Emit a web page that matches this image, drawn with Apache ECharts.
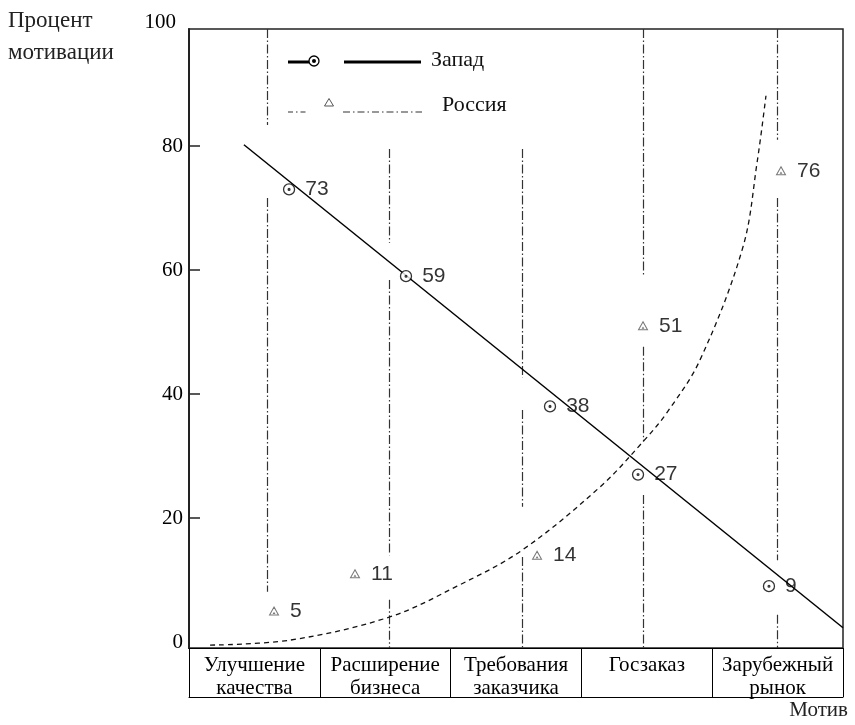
<!DOCTYPE html>
<html><head><meta charset="utf-8">
<script src="https://cdn.jsdelivr.net/npm/echarts@6/dist/echarts.min.js"></script>
<style>html,body{margin:0;padding:0;background:#fff}#c{width:855px;height:725px}</style>
</head><body><div id="c"></div>
<script>
// ---- data ----
const categories = ['Улучшение\nкачества','Расширение\nбизнеса','Требования\nзаказчика','Госзаказ','Зарубежный\nрынок'];
const yTickLabels = [0, 20, 40, 60, 80];
const yTopLabel = '100';
const westValues = [73, 59, 38, 27, 9];
const westX = [0.765, 1.659, 2.760, 3.433, 4.434];
const russiaValues = [5, 11, 14, 51, 76];
const russiaX = [0.650, 1.269, 2.661, 3.471, 4.526];
// trend line for "Запад" (end points)
const westTrendX = [0.420, 5.0];
const westTrendY = [80.2, 2.3];
// trend curve for "Россия"
const russiaCurveX = [0.161, 0.772, 1.529, 2.049, 2.546, 3.142, 3.471, 3.654, 3.907, 4.235, 4.343, 4.411];
const russiaCurveY = [-0.5, 0.3, 4.0, 9.0, 14.8, 25.0, 32.3, 37.0, 45.5, 63.7, 77.3, 88.1];
// vertical dash-dot guide lines (x, and visible segments [from,to])
const guideX = [0.596, 1.529, 2.546, 3.471, 4.495];
const guideSegments = [
  [[98.87, 83.4], [71.6, 8.1]],
  [[79.5, 64.4], [58.4, 14.0], [6.8, -0.97]],
  [[79.5, 42.6], [37.4, 21.8], [13.7, -0.97]],
  [[98.87, 58.9], [47.6, 32.3], [23.7, -0.97]],
  [[98.87, 81.0], [71.6, 13.2], [4.4, -0.97]]
];
const seriesNames = ['Запад', 'Россия'];

// ---- build ----
const serif = '"Liberation Serif", "Times New Roman", serif';
const sans = '"Liberation Sans", Arial, sans-serif';
const ringDot = 'path://M10,0A10,10,0,1,1,-10,0A10,10,0,1,1,10,0Z M1.6,0A1.6,1.6,0,1,1,-1.6,0A1.6,1.6,0,1,1,1.6,0Z';
const tri = 'path://M0,-10L9,6L-9,6Z M0,1.5L1,3L-1,3Z';

const guideData = [];
guideX.forEach((x, i) => guideSegments[i].forEach(s => guideData.push({coords: [[x, s[0]], [x, s[1]]]})));

const chart = echarts.init(document.getElementById('c'), null, {renderer: 'canvas'});
chart.setOption({
  animation: false,
  backgroundColor: '#fff',
  grid: {left: 189, right: 12, top: 29, bottom: 77, show: true, borderColor: '#222', borderWidth: 1.5, backgroundColor: 'transparent'},
  xAxis: [
    {type: 'value', min: 0, max: 5, show: false},
    {type: 'category', data: categories, position: 'bottom', boundaryGap: true,
     axisLine: {show: true, lineStyle: {color: '#000', width: 1}},
     axisTick: {show: true, length: 49, interval: 0, alignWithLabel: false, lineStyle: {color: '#000', width: 1}},
     axisLabel: {interval: 0, margin: 6, fontSize: 21, lineHeight: 23, fontFamily: serif, color: '#000'},
     splitLine: {show: false}},
    {type: 'category', data: categories, position: 'bottom', offset: 49,
     axisLine: {show: true, lineStyle: {color: '#000', width: 1}},
     axisTick: {show: false}, axisLabel: {show: false}, splitLine: {show: false},
     name: 'Мотив', nameLocation: 'end', nameGap: 5,
     nameTextStyle: {fontSize: 21, fontFamily: serif, color: '#222', align: 'right', verticalAlign: 'top', padding: [3, 0, 0, 0]}}
  ],
  yAxis: {
    type: 'value', min: -0.97, max: 98.87,
    axisLine: {show: true, lineStyle: {color: '#222', width: 2}},
    axisTick: {show: true, inside: true, length: 11, customValues: yTickLabels.filter(v => v > 0), lineStyle: {color: '#222', width: 1.5}},
    axisLabel: {customValues: yTickLabels, fontSize: 21, fontFamily: serif, color: '#000', margin: 6},
    splitLine: {show: false},
    name: yTopLabel, nameLocation: 'end', nameGap: 7,
    nameTextStyle: {fontSize: 21, fontFamily: serif, color: '#000', align: 'right', verticalAlign: 'middle', padding: [0, 13, 0, 0]}
  },
  graphic: [
    {type: 'text', left: 8, top: 5, style: {text: 'Процент\nмотивации', font: '23px ' + serif, lineHeight: 32, fill: '#222'}},
    // legend row 1
    {type: 'line', shape: {x1: 288, y1: 62, x2: 310, y2: 62}, style: {stroke: '#000', lineWidth: 3}},
    {type: 'circle', shape: {cx: 314, cy: 61, r: 5}, style: {fill: '#fff', stroke: '#000', lineWidth: 1.3}},
    {type: 'circle', shape: {cx: 314, cy: 61, r: 2}, style: {fill: '#000'}},
    {type: 'line', shape: {x1: 344, y1: 62, x2: 421, y2: 62}, style: {stroke: '#000', lineWidth: 3}},
    {type: 'text', left: 431, top: 49, style: {text: seriesNames[0], font: '22px ' + serif, fill: '#111'}},
    // legend row 2
    {type: 'line', shape: {x1: 288, y1: 112, x2: 306, y2: 112}, style: {stroke: '#333', lineWidth: 1.2, lineDash: [5, 3, 1.5, 3]}},
    {type: 'polygon', shape: {points: [[329, 98.5], [333.5, 106], [324.5, 106]]}, style: {fill: '#fff', stroke: '#555', lineWidth: 1}},
    {type: 'line', shape: {x1: 343, y1: 112, x2: 422, y2: 112}, style: {stroke: '#333', lineWidth: 1.2, lineDash: [7, 3, 1.5, 3]}},
    {type: 'text', left: 442, top: 94, style: {text: seriesNames[1], font: '22px ' + serif, fill: '#111'}}
  ],
  series: [
    {type: 'lines', coordinateSystem: 'cartesian2d', xAxisIndex: 0, yAxisIndex: 0, silent: true, z: 1,
     lineStyle: {color: '#333', width: 1.2, type: [9, 2.5, 1.5, 2.5], opacity: 1}, data: guideData},
    {type: 'line', name: seriesNames[0] + ' тренд', xAxisIndex: 0, data: westTrendX.map((x, i) => [x, westTrendY[i]]),
     symbol: 'none', lineStyle: {color: '#000', width: 1.5}, z: 2},
    {type: 'line', name: seriesNames[1] + ' тренд', xAxisIndex: 0, data: russiaCurveX.map((x, i) => [x, russiaCurveY[i]]),
     symbol: 'none', smooth: 0.35, lineStyle: {color: '#111', width: 1.3, type: [5, 4]}, z: 2},
    {type: 'scatter', name: seriesNames[0], xAxisIndex: 0, data: westValues.map((v, i) => [westX[i], v]),
     symbol: ringDot, symbolSize: 11, itemStyle: {color: '#fff', borderColor: '#000', borderWidth: 1.3}, z: 5,
     label: {show: true, position: 'right', distance: 10, formatter: p => p.value[1], fontSize: 21, fontFamily: sans, color: '#000'}},
    {type: 'scatter', name: seriesNames[1], xAxisIndex: 0, data: russiaValues.map((v, i) => [russiaX[i], v]),
     symbol: tri, symbolSize: [9, 8], itemStyle: {color: '#fff', borderColor: '#555', borderWidth: 1}, z: 5,
     label: {show: true, position: 'right', distance: 11, formatter: p => p.value[1], fontSize: 21, fontFamily: sans, color: '#000'}}
  ]
});
</script></body></html>
